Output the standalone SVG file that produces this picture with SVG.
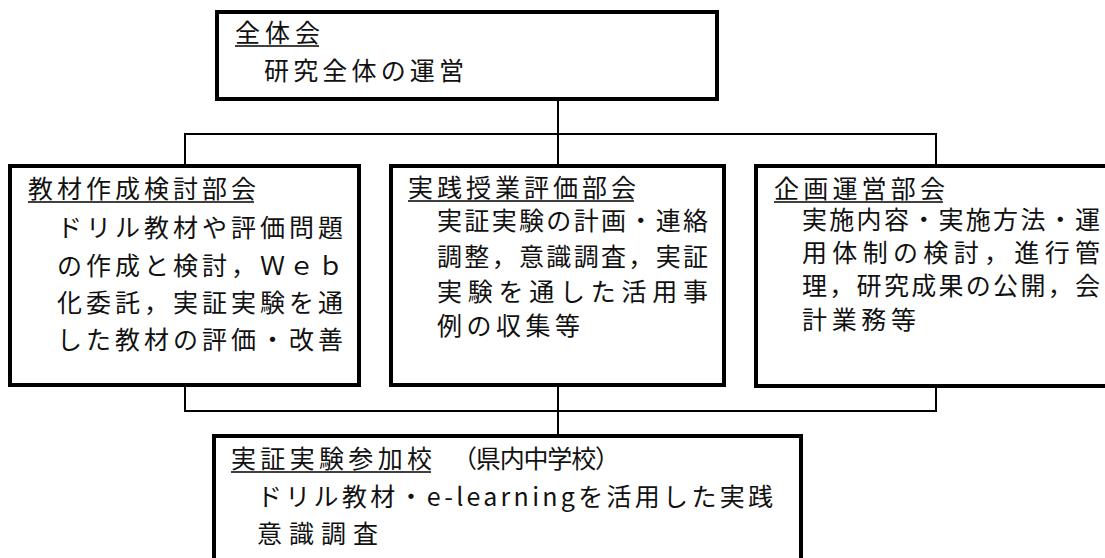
<svg xmlns="http://www.w3.org/2000/svg" width="1105" height="558" viewBox="0 0 1105 558">
<style>
.box{fill:#fff;stroke:#000;stroke-width:4}
.t{font-family:"Noto Sans CJK JP","Noto Sans",sans-serif;font-size:25px;fill:#111}
.ul{stroke:#000;stroke-width:1.6}
.c{stroke:#000;stroke-width:2;fill:none}
</style>
<rect width="1105" height="558" fill="#fff"/>
<g id="connectors">
<line class="c" x1="558" y1="99" x2="558" y2="166"/>
<polyline class="c" points="185,166 185,134 936,134 936,166"/>
<polyline class="c" points="185,385 185,411 936,411 936,386"/>
<line class="c" x1="558" y1="385" x2="558" y2="436"/>
</g>
<g id="node-zentaikai">
<rect class="box" x="217" y="12" width="500" height="87"/>
<text class="t" x="235" y="42" textLength="85">全体会</text>
<line class="ul" x1="235" y1="46" x2="319" y2="46"/>
<text class="t" x="264" y="80" textLength="200">研究全体の運営</text>
</g>
<g id="node-kyozai">
<rect class="box" x="10" y="166" width="349" height="219"/>
<text class="t" x="28" y="198" textLength="228">教材作成検討部会</text>
<line class="ul" x1="28" y1="202" x2="254" y2="202"/>
<text class="t" x="57" y="237" textLength="286">ドリル教材や評価問題</text>
<text class="t" x="57" y="275" textLength="286">の作成と検討，Ｗｅｂ</text>
<text class="t" x="57" y="312" textLength="286">化委託，実証実験を通</text>
<text class="t" x="57" y="349" textLength="286">した教材の評価・改善</text>
</g>
<g id="node-jissen">
<rect class="box" x="391" y="166" width="333" height="219"/>
<text class="t" x="408" y="197" textLength="228">実践授業評価部会</text>
<line class="ul" x1="408" y1="201" x2="634" y2="201"/>
<text class="t" x="437" y="230" textLength="271">実証実験の計画・連絡</text>
<text class="t" x="437" y="266" textLength="271">調整，意識調査，実証</text>
<text class="t" x="437" y="301" textLength="271">実験を通した活用事</text>
<text class="t" x="437" y="335" textLength="143">例の収集等</text>
</g>
<g id="node-kikaku">
<rect class="box" x="756" y="166" width="360" height="220"/>
<text class="t" x="774" y="198" textLength="171">企画運営部会</text>
<line class="ul" x1="774" y1="202" x2="943" y2="202"/>
<text class="t" x="802" y="229" textLength="298">実施内容・実施方法・運</text>
<text class="t" x="802" y="262" textLength="298">用体制の検討，進行管</text>
<text class="t" x="802" y="295" textLength="298">理，研究成果の公開，会</text>
<text class="t" x="802" y="329" textLength="114">計業務等</text>
</g>
<g id="node-sankako">
<rect class="box" x="214" y="436" width="587" height="140"/>
<text class="t" x="231" y="468" textLength="201">実証実験参加校</text>
<line class="ul" x1="231" y1="472" x2="431" y2="472"/>
<text class="t" x="452" y="468" textLength="168">（県内中学校）</text>
<text class="t" x="257" y="506" textLength="516">ドリル教材・e-learningを活用した実践</text>
<text class="t" x="257" y="543" textLength="121">意識調査</text>
</g>
</svg>
